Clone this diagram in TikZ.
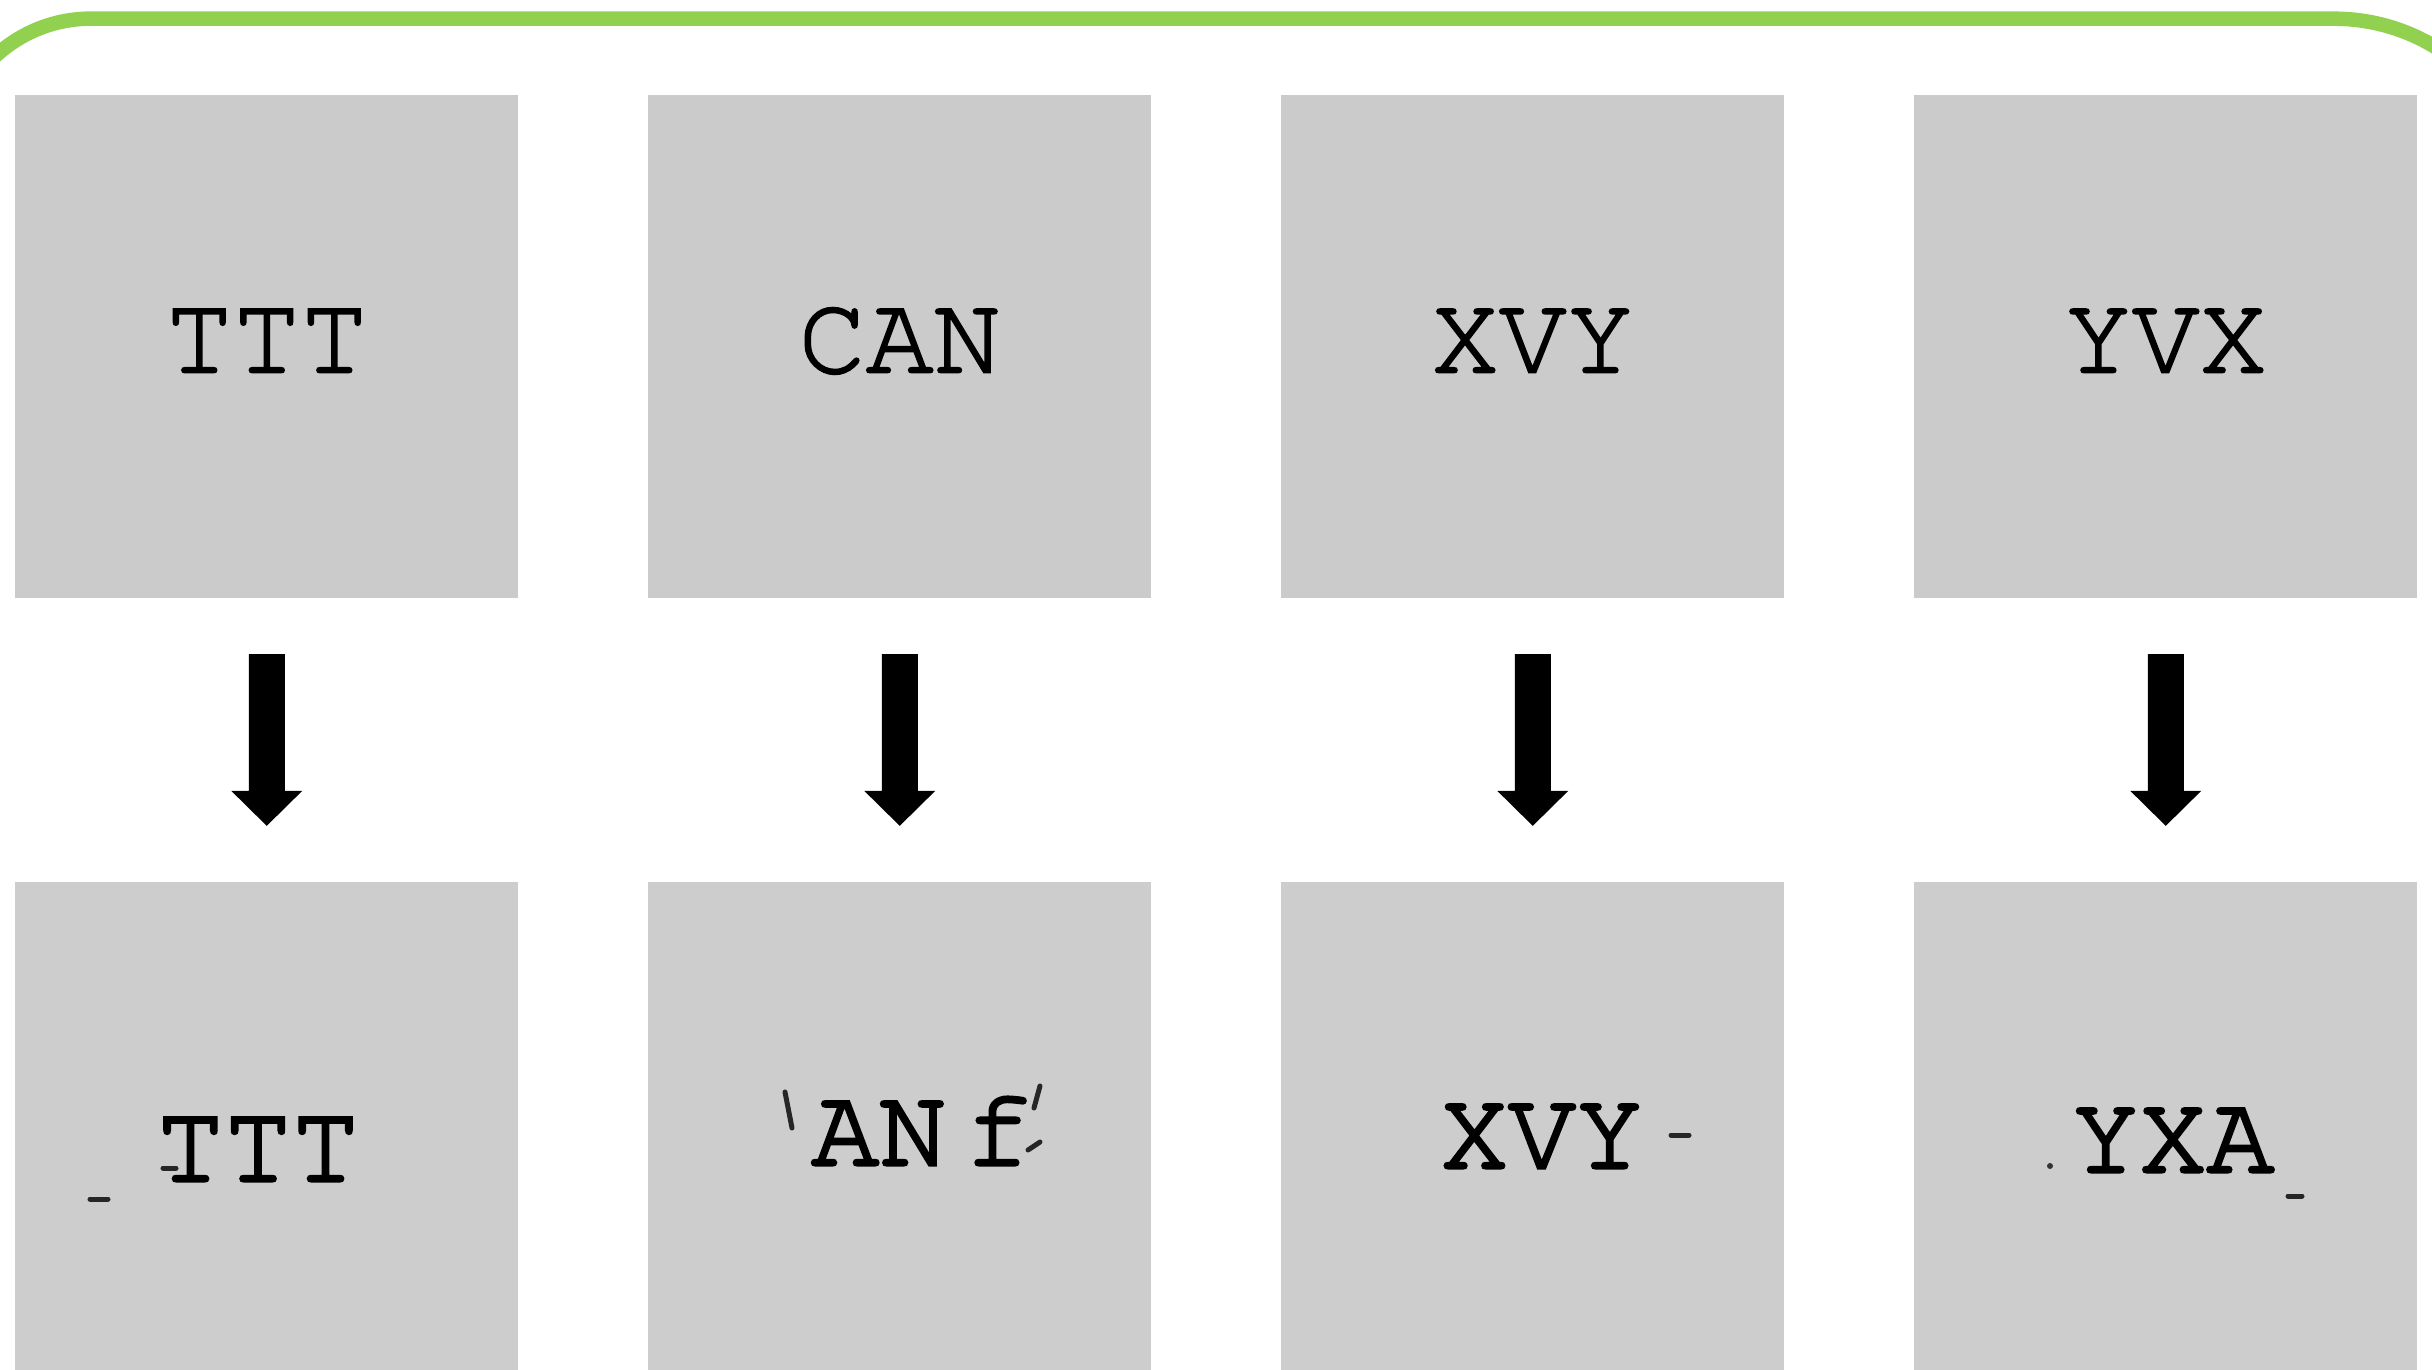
\documentclass[tikz,border=0pt]{standalone}
\usetikzlibrary{calc}
\definecolor{panelgray}{RGB}{203,203,203}
\definecolor{outgray}{RGB}{205,205,205}
\definecolor{framegreen}{RGB}{146,208,80}
\newcommand\couriertype{\fontencoding{T1}\fontfamily{pcr}\selectfont}
% outline the glyphs as well as filling them, to give the strokes more weight
\newcommand\heavier[2]{\special{pdf:literal direct 2 Tr #1 w}#2\special{pdf:literal direct 0 Tr}}
\begin{document}
\begin{tikzpicture}[x=0.01cm,y=-0.01cm,
  panel/.style={fill=panelgray, draw=none, minimum width=5.03cm, minimum height=5.03cm,
                inner sep=0pt, outer sep=0pt},
  outpanel/.style={panel, fill=outgray},
  glyphs/.style={font=\couriertype\fontsize{32pt}{38pt}\selectfont, inner sep=0pt, anchor=base},
  frame/.style={draw=framegreen, line width=0.145cm},
  blockarrow/.style={fill=black},
  speck/.style={line width=0.05cm, line cap=round, black!85}
]
% page area
\useasboundingbox (0,0) rectangle (2432,1370);
\clip (0,0) rectangle (2432,1370);

% green rounded frame (only its top edge falls inside the page)
\draw[frame] (-50,1500) -- (-50,159.7) arc[start angle=180, end angle=90, radius=1.41cm]
  -- (2334,18.7) arc[start angle=90, end angle=0, radius=1.95cm] -- (2529,1500);

% input panels (top) and reconstructed panels (bottom)
\foreach \i/\x in {1/266.75, 2/899.75, 3/1532.75, 4/2165.75} {
  \node[panel] (t\i) at (\x,346.5) {};
  \node[outpanel] (b\i) at (\x,1134) {};
}

% input strings
\node[glyphs] (tt1) at ($(t1.center)+(0,26)$) {\heavier{0.55}{TTT}};
\node[glyphs] (tt2) at ($(t2.center)+(0,26)$) {\heavier{0.55}{CAN}};
\node[glyphs] (tt3) at ($(t3.center)+(0,26)$) {\heavier{0.55}{XVY}};
\node[glyphs] (tt4) at ($(t4.center)+(0,26)$) {\heavier{0.55}{YVX}};

% reconstructed strings
\node[glyphs] (bt1) at (258,1181) {\heavier{0.9}{TTT}};
\node[glyphs] (bt2) at (879,1165) {\heavier{0.9}{AN}};
\node[glyphs] (bt2f) at (998,1165) {\heavier{0.9}{f}};
\node[glyphs] (bt3) at (1542,1168) {\heavier{0.9}{XVY}};
\node[glyphs] (bt4) at (2173,1172) {\heavier{0.9}{YXA}};

% stray marks around the reconstructions
\draw[speck] (163,1168) -- (176,1168);
\draw[speck] (90,1199) -- (108,1199);
\draw[speck] (785,1092) -- (792,1128);
\draw[speck] (1040,1086) -- (1034,1108);
\draw[speck] (1028,1150) -- (1040,1142);
\draw[speck] (1671,1135) -- (1689,1135);
\draw[speck] (2288,1196) -- (2302,1196);
\fill[black!80] (2050,1166) circle (0.03cm);

% down arrows from each input to its reconstruction
\foreach \i in {1,2,3,4} {
  \coordinate (tail\i) at ($(t\i.south)+(0,56)$);
  \coordinate (tip\i) at ($(b\i.north)+(0,-56.5)$);
  \fill[blockarrow] ($(tail\i)+(-18,0)$) -- ($(tail\i)+(18,0)$) -- ($(tip\i)+(18,-35)$)
    -- ($(tip\i)+(35.5,-35)$) -- (tip\i) -- ($(tip\i)+(-35.5,-35)$) -- ($(tip\i)+(-18,-35)$) -- cycle;
}
\end{tikzpicture}
\end{document}
